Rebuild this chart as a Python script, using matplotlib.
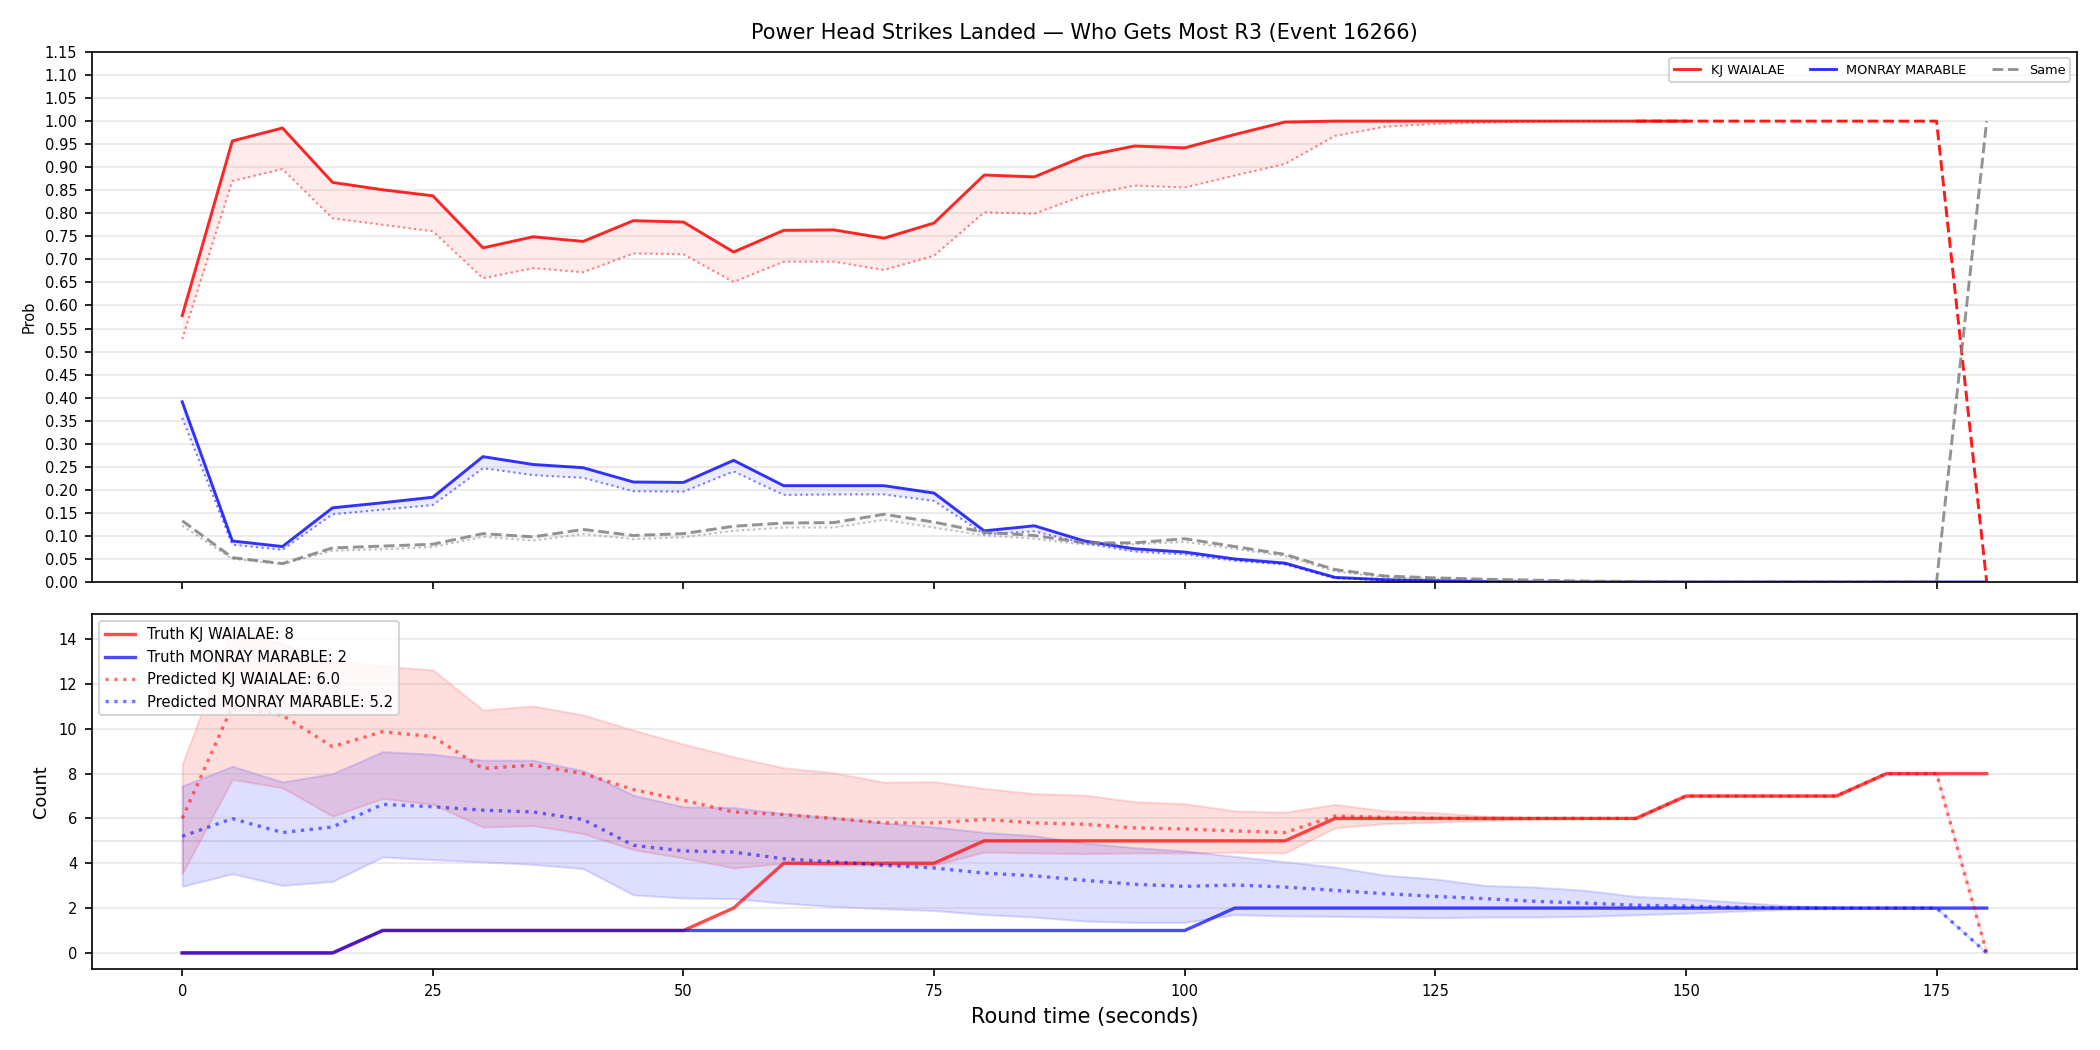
import numpy as np
import matplotlib
matplotlib.use('Agg')
import matplotlib.pyplot as plt
from matplotlib.ticker import MultipleLocator, FormatStrFormatter

# --- data ---
title = "Power Head Strikes Landed \u2014 Who Gets Most R3 (Event 16266)"
fighter_a = "KJ WAIALAE"
fighter_b = "MONRAY MARABLE"

t_all = np.arange(0, 185, 5)          # 0..180
t_live = np.arange(0, 155, 5)         # 0..150
t_tail = np.arange(145, 185, 5)       # 145..180

# top panel: win probabilities
kj_prob = [0.578, 0.957, 0.985, 0.867, 0.851, 0.838, 0.725, 0.749, 0.739, 0.784,
           0.781, 0.716, 0.763, 0.764, 0.746, 0.779, 0.883, 0.879, 0.924, 0.946,
           0.942, 0.971, 0.998, 1.0, 1.0, 1.0, 1.0, 1.0, 1.0, 1.0, 1.0]
kj_prob_low = [0.527, 0.870, 0.896, 0.789, 0.775, 0.761, 0.659, 0.681, 0.672, 0.713,
               0.711, 0.651, 0.695, 0.695, 0.677, 0.708, 0.802, 0.799, 0.839, 0.860,
               0.856, 0.882, 0.907, 0.968, 0.988, 0.994, 0.997, 0.999, 1.0, 1.0, 1.0]
kj_prob_tail = [1.0, 1.0, 1.0, 1.0, 1.0, 1.0, 1.0, 0.0]

mon_prob = [0.391, 0.089, 0.077, 0.161, 0.172, 0.184, 0.272, 0.255, 0.248, 0.217,
            0.216, 0.264, 0.209, 0.209, 0.209, 0.193, 0.111, 0.122, 0.089, 0.072,
            0.065, 0.050, 0.041, 0.010, 0.005, 0.003, 0.001, 0.0, 0.0, 0.0,
            0.0, 0.0, 0.0, 0.0, 0.0, 0.0, 0.0]
mon_prob_low = [0.356, 0.081, 0.070, 0.147, 0.157, 0.167, 0.247, 0.232, 0.226, 0.197,
                0.196, 0.240, 0.189, 0.190, 0.190, 0.176, 0.104, 0.110, 0.084, 0.066,
                0.060, 0.046, 0.038, 0.008, 0.004, 0.002, 0.001, 0.0, 0.0, 0.0, 0.0]

same_prob = [0.133, 0.053, 0.040, 0.074, 0.078, 0.082, 0.105, 0.098, 0.114, 0.101,
             0.105, 0.121, 0.128, 0.129, 0.147, 0.130, 0.108, 0.101, 0.085, 0.085,
             0.094, 0.077, 0.060, 0.027, 0.013, 0.009, 0.006, 0.004, 0.002, 0.001,
             0.0, 0.0, 0.0, 0.0, 0.0, 0.0, 1.0]
same_prob_low = [0.122, 0.050, 0.039, 0.068, 0.071, 0.076, 0.098, 0.090, 0.104, 0.093,
                 0.097, 0.111, 0.118, 0.118, 0.135, 0.118, 0.101, 0.094, 0.081, 0.082,
                 0.087, 0.072, 0.056, 0.023, 0.010, 0.007, 0.005, 0.003, 0.002, 0.001, 0.0]

# bottom panel: counts
truth_kj = [0, 0, 0, 0, 1, 1, 1, 1, 1, 1, 1, 2, 4, 4, 4, 4, 5, 5, 5, 5, 5, 5, 5,
            6, 6, 6, 6, 6, 6, 6, 7, 7, 7, 7, 8, 8, 8]
truth_mon = [0, 0, 0, 0, 1, 1, 1, 1, 1, 1, 1, 1, 1, 1, 1, 1, 1, 1, 1, 1, 1,
             2, 2, 2, 2, 2, 2, 2, 2, 2, 2, 2, 2, 2, 2, 2, 2]
pred_kj = [6.0, 11.0, 10.6, 9.2, 9.87, 9.65, 8.23, 8.38, 8.0, 7.29, 6.81, 6.29, 6.17,
           6.0, 5.8, 5.8, 5.96, 5.8, 5.74, 5.58, 5.53, 5.44, 5.37, 6.11, 6.05, 6.01,
           6.0, 6.0, 6.0, 6.0, 7.0, 7.0, 7.0, 7.0, 8.0, 8.0, 0.0]
pred_kj_hi = [8.41, 14.4, 13.8, 13.0, 12.8, 12.63, 10.84, 11.02, 10.62, 9.94, 9.32,
              8.75, 8.26, 8.04, 7.62, 7.64, 7.34, 7.11, 7.04, 6.75, 6.66, 6.34, 6.28,
              6.63, 6.34, 6.26, 6.1, 6.02, 6.0, 6.0, 7.0, 7.0, 7.0, 7.0, 8.0, 8.0, 0.0]
pred_kj_lo = [3.53, 7.74, 7.37, 6.10, 6.89, 6.63, 5.62, 5.68, 5.32, 4.61, 4.23, 3.79,
              4.0, 3.91, 3.91, 3.91, 4.5, 4.46, 4.43, 4.46, 4.46, 4.49, 4.46, 5.58,
              5.77, 5.83, 5.9, 5.97, 6.0, 6.0, 7.0, 7.0, 7.0, 7.0, 8.0, 8.0, 0.0]
pred_mon = [5.2, 5.99, 5.37, 5.62, 6.63, 6.52, 6.37, 6.29, 5.95, 4.80, 4.55, 4.50,
            4.20, 4.06, 3.91, 3.79, 3.56, 3.44, 3.24, 3.06, 2.97, 3.03, 2.94, 2.79,
            2.64, 2.52, 2.42, 2.30, 2.22, 2.13, 2.09, 2.04, 2.01, 2.0, 2.0, 2.0, 0.0]
pred_mon_hi = [7.45, 8.33, 7.63, 8.0, 8.98, 8.87, 8.6, 8.6, 8.13, 7.04, 6.52, 6.49,
               6.22, 6.04, 5.8, 5.62, 5.38, 5.23, 4.91, 4.70, 4.55, 4.31, 4.07, 3.83,
               3.47, 3.30, 3.01, 2.94, 2.79, 2.52, 2.42, 2.27, 2.12, 2.04, 2.0, 2.0, 0.0]
pred_mon_lo = [2.97, 3.53, 3.01, 3.19, 4.28, 4.16, 4.06, 3.95, 3.76, 2.59, 2.45, 2.42,
               2.22, 2.07, 1.97, 1.89, 1.71, 1.6, 1.42, 1.36, 1.36, 1.71, 1.65, 1.63,
               1.6, 1.57, 1.6, 1.6, 1.63, 1.7, 1.77, 1.86, 1.94, 1.98, 2.0, 2.0, 0.0]
count_ref = 5

# --- figure ---
fig = plt.figure(figsize=(14, 7), dpi=150)
ax1 = fig.add_axes([0.0438, 0.4457, 0.9452, 0.5048])
ax2 = fig.add_axes([0.0438, 0.0771, 0.9452, 0.3381], sharex=ax1)

# top: probabilities
ax1.plot(t_live, kj_prob, color='red', lw=1.4, alpha=0.85, label=fighter_a)
ax1.plot(t_live, kj_prob_low, color='red', lw=1.0, ls=':', alpha=0.5)
ax1.fill_between(t_live, kj_prob_low, kj_prob, color='red', alpha=0.08, lw=0)
ax1.plot(t_tail, kj_prob_tail, color='red', lw=1.4, ls='--', alpha=0.9)

ax1.plot(t_all, mon_prob, color='blue', lw=1.4, alpha=0.8, label=fighter_b)
ax1.plot(t_live, mon_prob_low, color='blue', lw=1.0, ls=':', alpha=0.5)
ax1.fill_between(t_live, mon_prob_low, mon_prob[:len(t_live)], color='blue', alpha=0.08, lw=0)

ax1.plot(t_all, same_prob, color='gray', lw=1.4, ls='--', alpha=0.85, label='Same')
ax1.plot(t_live, same_prob_low, color='gray', lw=1.0, ls=':', alpha=0.5)
ax1.fill_between(t_live, same_prob_low, same_prob[:len(t_live)], color='gray', alpha=0.06, lw=0)

ax1.set_ylim(0, 1.15)
ax1.yaxis.set_major_locator(MultipleLocator(0.05))
ax1.yaxis.set_major_formatter(FormatStrFormatter('%.2f'))
ax1.set_ylabel('Prob', fontsize=7)
ax1.set_title(title, fontsize=10)
ax1.grid(axis='y', alpha=0.3)
ax1.tick_params(labelsize=7)
ax1.tick_params(axis='x', labelbottom=False)
ax1.legend(loc='upper right', ncol=3, fontsize=6.2)

# bottom: counts
ax2.plot(t_all, truth_kj, color='red', lw=1.6, alpha=0.7,
         label=f'Truth {fighter_a}: {truth_kj[-1]}')
ax2.plot(t_all, truth_mon, color='blue', lw=1.6, alpha=0.7,
         label=f'Truth {fighter_b}: {truth_mon[-1]}')
ax2.plot(t_all, pred_kj, color='red', lw=1.6, ls=':', alpha=0.55,
         label=f'Predicted {fighter_a}: {pred_kj[0]:.1f}')
ax2.fill_between(t_all, pred_kj_lo, pred_kj_hi, color='red', alpha=0.13)
ax2.plot(t_all, pred_mon, color='blue', lw=1.6, ls=':', alpha=0.55,
         label=f'Predicted {fighter_b}: {pred_mon[0]:.1f}')
ax2.fill_between(t_all, pred_mon_lo, pred_mon_hi, color='blue', alpha=0.13)
ax2.axhline(count_ref, color='lightgray', lw=0.8, alpha=0.6, zorder=0)

ax2.yaxis.set_major_locator(MultipleLocator(2))
ax2.set_ylabel('Count', fontsize=8.5)
ax2.set_xlabel('Round time (seconds)', fontsize=10)
ax2.grid(axis='y', alpha=0.3)
ax2.tick_params(labelsize=7)
ax2.legend(loc='upper left', fontsize=7.1)

fig.savefig('out.png', dpi=150)
